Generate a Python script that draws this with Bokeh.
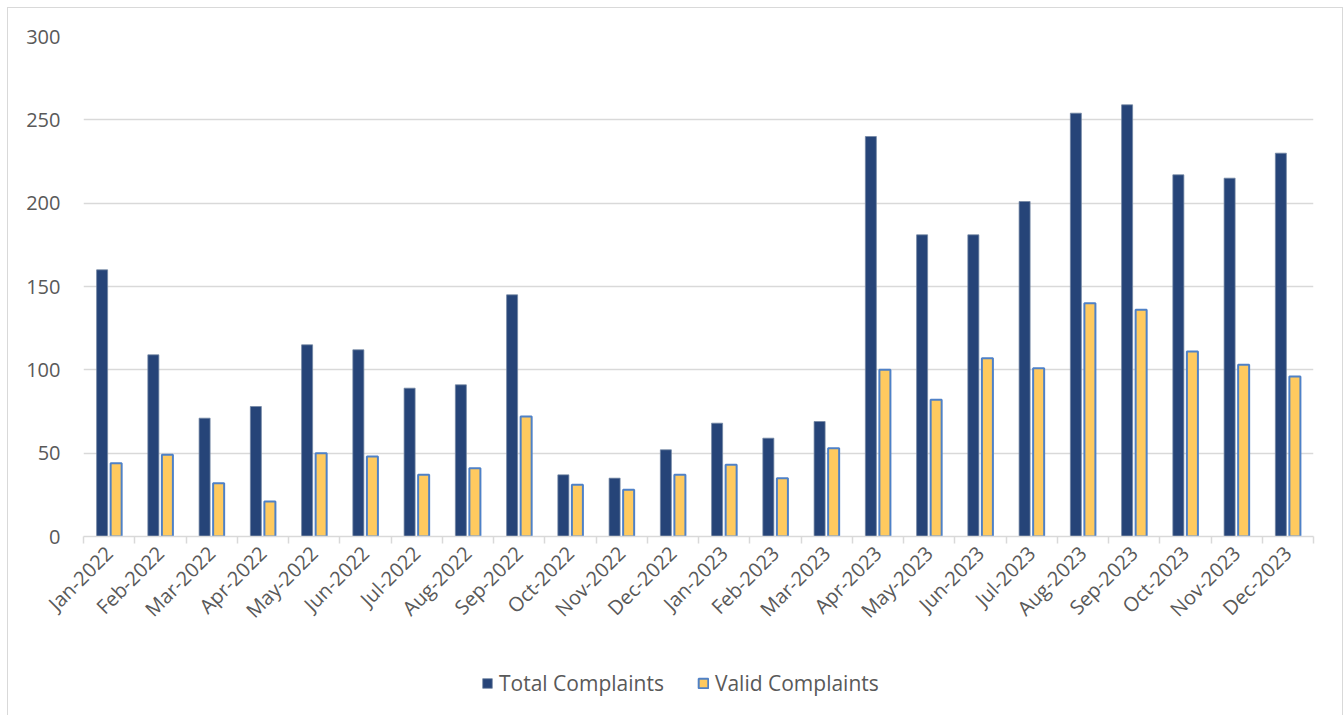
import math
from bokeh.plotting import figure
from bokeh.layouts import column
from bokeh.models import (Range1d, FixedTicker, Legend, LegendItem, ColumnDataSource,
                          BoxAnnotation)
from bokeh.transform import dodge
from bokeh.embed import file_html
from bokeh.resources import INLINE

months = ["Jan-2022", "Feb-2022", "Mar-2022", "Apr-2022", "May-2022", "Jun-2022",
          "Jul-2022", "Aug-2022", "Sep-2022", "Oct-2022", "Nov-2022", "Dec-2022",
          "Jan-2023", "Feb-2023", "Mar-2023", "Apr-2023", "May-2023", "Jun-2023",
          "Jul-2023", "Aug-2023", "Sep-2023", "Oct-2023", "Nov-2023", "Dec-2023"]
total = [160, 109, 71, 78, 115, 112, 89, 91, 145, 37, 35, 52,
         68, 59, 69, 240, 181, 181, 201, 254, 259, 217, 215, 230]
valid = [44, 49, 32, 21, 50, 48, 37, 41, 72, 31, 28, 37,
         43, 35, 53, 100, 82, 107, 101, 140, 136, 111, 103, 96]
y_ticks = [0, 50, 100, 150, 200, 250, 300]
series_names = ["Total Complaints", "Valid Complaints"]

FONT = "Open Sans"
TXT = "#595959"
GRID = "#d9d9d9"
TOTAL_STYLE = dict(fill_color="#264478", line_color="#7185a3", line_width=0.75)
VALID_STYLE = dict(fill_color="#FFCA5F", line_color="#4F81C7", line_width=2)

pos = list(range(len(months)))
src = ColumnDataSource(dict(x=pos, total=total, valid=valid, month=months))

p = figure(width=1334, height=632, output_backend="svg", toolbar_location=None,
           x_range=Range1d(-0.5, len(months) - 0.5), y_range=Range1d(0, 300),
           min_border_left=75, min_border_right=29, min_border_top=28,
           min_border_bottom=104)
p.outline_line_color = None
p.background_fill_color = "white"
p.border_fill_color = "white"

p.vbar(x=dodge("x", -0.137, range=p.x_range), top="total", width=0.215,
       source=src, **TOTAL_STYLE)
p.vbar(x=dodge("x", 0.137, range=p.x_range), top="valid", width=0.215,
       source=src, **VALID_STYLE)

# x axis
xa = p.xaxis[0]
xa.ticker = FixedTicker(ticks=pos, minor_ticks=[i - 0.5 for i in range(len(months) + 1)])
xa.major_label_overrides = {i: m for i, m in zip(pos, months)}
xa.major_label_orientation = math.pi / 4
xa.major_tick_line_color = None
xa.minor_tick_line_color = GRID
xa.minor_tick_line_width = 1.5
xa.minor_tick_out = 7
xa.minor_tick_in = 0
xa.axis_line_color = GRID
xa.axis_line_width = 1.5
xa.major_label_standoff = 6
xa.major_label_text_font = FONT
xa.major_label_text_font_size = "20px"
xa.major_label_text_color = TXT

# y axis
ya = p.yaxis[0]
ya.ticker = FixedTicker(ticks=y_ticks)
ya.axis_line_color = None
ya.major_tick_line_color = None
ya.minor_tick_line_color = None
ya.major_label_standoff = 17
ya.major_label_text_font = FONT
ya.major_label_text_font_size = "20px"
ya.major_label_text_color = TXT

p.xgrid.visible = False
p.ygrid.grid_line_color = GRID
p.ygrid.grid_line_width = 1.5
p.ygrid.ticker = FixedTicker(ticks=y_ticks)

# legend strip below the chart: it references the same series (kept out of
# view and masked), so only the legend swatches and labels show
lf = figure(width=1334, height=75, output_backend="svg", toolbar_location=None,
            x_axis_location=None, y_axis_location=None,
            x_range=p.x_range, y_range=Range1d(600, 700),
            min_border_left=75, min_border_right=29, min_border_top=0,
            min_border_bottom=0)
lf.outline_line_color = None
lf.grid.visible = False
lf.background_fill_color = "white"
lf.border_fill_color = "white"
lr1 = lf.vbar(x="x", top="total", width=0.215, source=src, **TOTAL_STYLE)
lr2 = lf.vbar(x="x", top="valid", width=0.215, source=src, **VALID_STYLE)
lf.add_layout(BoxAnnotation(fill_color="white", fill_alpha=1.0, line_color=None))

legend = Legend(items=[LegendItem(label=series_names[0], renderers=[lr1]),
                       LegendItem(label=series_names[1], renderers=[lr2])],
                orientation="horizontal", location=(398, 18),
                label_text_font=FONT, label_text_font_size="21px",
                label_text_color=TXT, glyph_width=12, glyph_height=12,
                label_standoff=6, spacing=33, border_line_color=None,
                background_fill_alpha=0, padding=0, margin=0)
lf.add_layout(legend, "center")

layout = column(p, lf, spacing=0,
                styles={"margin-left": "8px", "margin-top": "8px",
                        "outline": "1.5px solid #d9d9d9"})

open("out.html", "w").write(file_html(layout, INLINE))
